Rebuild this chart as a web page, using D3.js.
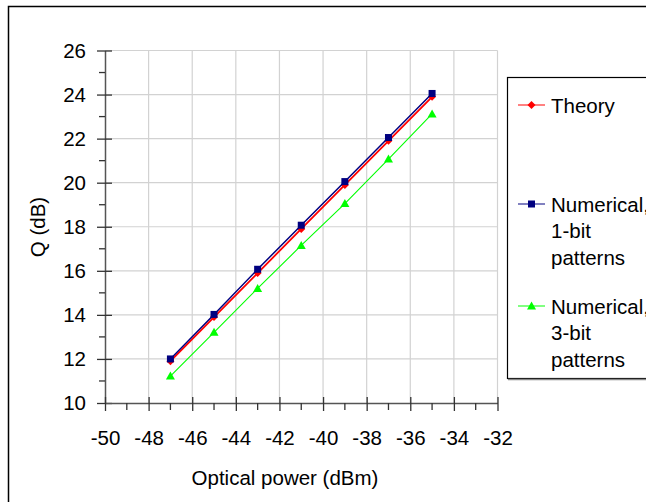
<!DOCTYPE html>
<html lang="en">
<head>
    <meta charset="UTF-8">
    <title>Q versus optical power</title>
    <script src="https://d3js.org/d3.v7.min.js"></script>
    <style>
        body { margin: 0; background: #fff; }
        svg text { font-family: "Liberation Sans", Arial, sans-serif; fill: #000; }
    </style>
</head>
<body>
    <svg width="646" height="502" id="chart"></svg>

    <script>
        // data
        const powerDbm = [-47, -45, -43, -41, -39, -37, -35];
        const theoryQ = [11.9, 13.9, 15.9, 17.9, 19.9, 21.9, 23.9];
        const oneBitQ = [12.0, 14.02, 16.07, 18.07, 20.05, 22.05, 24.05];
        const threeBitQ = [11.22, 13.21, 15.2, 17.15, 19.05, 21.07, 23.12];
        const xTicks = [-50, -48, -46, -44, -42, -40, -38, -36, -34, -32];
        const yTicks = [10, 12, 14, 16, 18, 20, 22, 24, 26];

        const series = [
            { name: ["Theory"], values: theoryQ, color: "#ff0000", width: 1.8, marker: "diamond" },
            { name: ["Numerical,", "1-bit", "patterns"], values: oneBitQ, color: "#000080", width: 1.5, marker: "square" },
            { name: ["Numerical,", "3-bit", "patterns"], values: threeBitQ, color: "#00ff00", width: 1.1, marker: "triangle" }
        ];

        const fontSize = 20.5;
        const svg = d3.select("#chart");

        // outer frame
        svg.append("rect")
            .attr("x", 8.5).attr("y", 6.5)
            .attr("width", 700).attr("height", 600)
            .attr("fill", "none").attr("stroke", "#000").attr("stroke-width", 1.5);

        const plotLeft = 105, plotRight = 497.5, plotTop = 50.5, plotBottom = 403;

        const x = d3.scaleLinear().domain([-50, -32]).range([plotLeft, plotRight]);
        const y = d3.scaleLinear().domain([10, 26]).range([plotBottom, plotTop]);

        // grid
        svg.append("g").selectAll("line")
            .data(xTicks.slice(1))
            .join("line")
            .attr("x1", d => x(d)).attr("x2", d => x(d))
            .attr("y1", plotTop).attr("y2", plotBottom)
            .attr("stroke", "#d2d2d2").attr("stroke-width", 1.2);
        svg.append("g").selectAll("line")
            .data(yTicks.slice(1))
            .join("line")
            .attr("x1", plotLeft).attr("x2", plotRight)
            .attr("y1", d => y(d)).attr("y2", d => y(d))
            .attr("stroke", "#d2d2d2").attr("stroke-width", 1.2);

        // y axis
        const yAxis = svg.append("g").attr("transform", `translate(${plotLeft},0)`)
            .call(d3.axisLeft(y).tickValues(yTicks).tickFormat(d => String(d))
                .tickSize(8).tickPadding(11).tickSizeOuter(0));
        yAxis.selectAll(".tick line").attr("x2", -8).attr("x1", 7);
        yAxis.append("g").selectAll("line")
            .data(d3.range(11, 26, 2))
            .join("line")
            .attr("x1", -6).attr("x2", 0)
            .attr("y1", d => y(d)).attr("y2", d => y(d));

        // x axis
        const xAxis = svg.append("g").attr("transform", `translate(0,${plotBottom})`)
            .call(d3.axisBottom(x).tickValues(xTicks).tickFormat(d => String(d))
                .tickSize(8).tickPadding(19).tickSizeOuter(0));
        xAxis.selectAll(".tick line").attr("y1", -6).attr("y2", 8);
        xAxis.append("g").selectAll("line")
            .data(d3.range(-49, -32, 2))
            .join("line")
            .attr("x1", d => x(d)).attr("x2", d => x(d))
            .attr("y1", 0).attr("y2", 7);

        [xAxis, yAxis].forEach(a => {
            a.select(".domain").attr("stroke", "#555").attr("stroke-width", 1.5);
            a.selectAll("line").attr("stroke", "#333").attr("stroke-width", 1.3);
            a.selectAll("text").attr("font-size", fontSize)
                .attr("font-family", "Liberation Sans, Arial, sans-serif").attr("fill", "#000");
        });

        // titles
        svg.append("text")
            .attr("x", 285).attr("y", 485)
            .attr("text-anchor", "middle").attr("font-size", fontSize)
            .text("Optical power (dBm)");
        svg.append("text")
            .attr("transform", "translate(45,227) rotate(-90)")
            .attr("text-anchor", "middle").attr("font-size", fontSize)
            .text("Q (dB)");

        // markers
        function drawMarker(g, type, cx, cy, color) {
            if (type === "square") {
                g.append("rect").attr("x", cx - 3.5).attr("y", cy - 3.5)
                    .attr("width", 7).attr("height", 7).attr("fill", color);
            } else if (type === "diamond") {
                g.append("path").attr("d", `M${cx},${cy - 4}L${cx + 4},${cy}L${cx},${cy + 4}L${cx - 4},${cy}Z`)
                    .attr("fill", color);
            } else {
                g.append("path").attr("d", `M${cx},${cy - 4.5}L${cx + 4.5},${cy + 3.5}L${cx - 4.5},${cy + 3.5}Z`)
                    .attr("fill", color);
            }
        }

        const line = d3.line().x((d, i) => x(powerDbm[i])).y(d => y(d));

        // draw green first, then red, then blue on top
        [series[2], series[0], series[1]].forEach(s => {
            const g = svg.append("g");
            g.append("path").attr("d", line(s.values))
                .attr("fill", "none").attr("stroke", s.color).attr("stroke-width", s.width);
            s.values.forEach((v, i) => drawMarker(g, s.marker, x(powerDbm[i]), y(v), s.color));
        });

        // legend
        const legend = svg.append("g");
        legend.append("rect")
            .attr("x", 507.5).attr("y", 77.5).attr("width", 200).attr("height", 301)
            .attr("fill", "#fff").attr("stroke", "#000").attr("stroke-width", 1.2);
        legend.append("line")
            .attr("x1", 508).attr("x2", 646).attr("y1", 379.5).attr("y2", 379.5)
            .attr("stroke", "#888").attr("stroke-width", 1.5);

        const legendY = [105, 204, 306];
        series.forEach((s, i) => {
            const ly = legendY[i];
            legend.append("line")
                .attr("x1", 518).attr("x2", 545).attr("y1", ly).attr("y2", ly)
                .attr("stroke", s.color).attr("stroke-width", 1.4).attr("opacity", 0.7);
            drawMarker(legend, s.marker, 531.5, ly, s.color);
            s.name.forEach((t, j) => {
                legend.append("text")
                    .attr("x", 551).attr("y", ly + 7.5 + j * 26.5)
                    .attr("font-size", fontSize)
                    .text(t);
            });
        });
    </script>
</body>
</html>
